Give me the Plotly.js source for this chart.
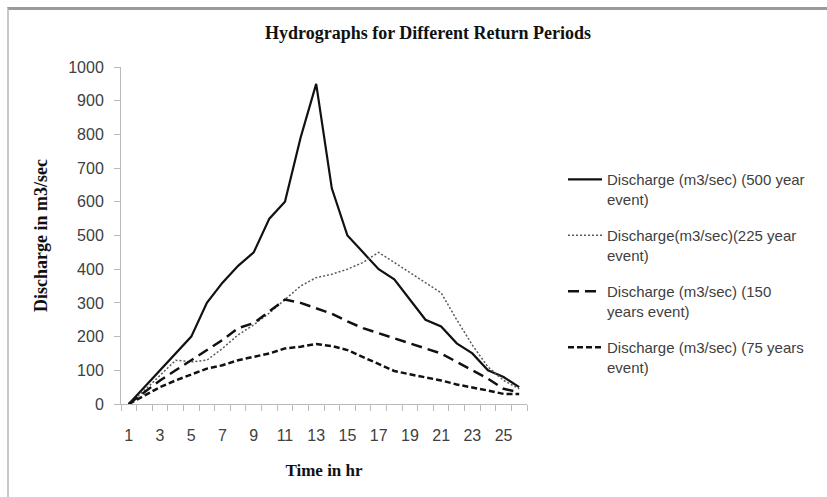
<html><head>
<title>Hydrographs for Different Return Periods</title>
<script src="https://cdn.plot.ly/plotly-3.0.1.min.js"></script>
<style>
  body {
    margin: 0;
    padding: 0;
    background-color: white;
  }
  #chart {
    position: absolute;
    left: 0;
    top: 0;
    width: 827px;
    height: 497px;
  }
  .frame {
    position: absolute;
    left: 7px;
    top: 7px;
    width: 840px;
    height: 510px;
    border-top: 3px solid #9a9a9a;
    border-left: 2px solid #c8c8c8;
    pointer-events: none;
  }
</style>
</head>
<body>
<div id="chart"></div>
<div class="frame"></div>

<script>
// time step (hr) and discharge in m3/sec
const hours = [1,2,3,4,5,6,7,8,9,10,11,12,13,14,15,16,17,18,19,20,21,22,23,24,25,26];
const q500 = [0,50,100,150,200,300,360,410,450,550,600,790,950,640,500,450,400,370,310,250,230,180,150,100,80,50];
const q225 = [0,40,85,130,125,130,165,205,235,270,310,350,375,385,400,420,450,420,390,360,330,250,175,110,70,45];
const q150 = [0,35,70,100,130,160,190,225,240,275,310,300,285,268,245,225,210,195,180,165,150,125,100,75,45,35];
const q75 = [0,25,50,70,88,105,115,130,140,150,165,170,178,172,160,140,118,98,88,80,70,58,50,40,30,30];

const seriesNames = [
  'Discharge (m3/sec) (500 year<br>event)',
  'Discharge(m3/sec)(225 year<br>event)',
  'Discharge (m3/sec) (150<br>years event)',
  'Discharge (m3/sec) (75 years<br>event)'
];
const xTickVals = [1,3,5,7,9,11,13,15,17,19,21,23,25];

const traces = [
  { y: q500, line: { color: '#111111', width: 2.2, dash: 'solid' } },
  { y: q225, line: { color: '#5a5a5a', width: 1.5, dash: '2px,2px' } },
  { y: q150, line: { color: '#111111', width: 2.5, dash: '11px,6px' } },
  { y: q75,  line: { color: '#111111', width: 2.5, dash: '6px,3px' } }
].map((t, i) => ({
  x: hours,
  y: t.y,
  type: 'scatter',
  mode: 'lines',
  name: seriesNames[i],
  legendgroup: 'g' + i,
  line: t.line
}));

const layout = {
  width: 827,
  height: 497,
  margin: { l: 121, r: 300, t: 67, b: 93 },
  paper_bgcolor: 'white',
  plot_bgcolor: 'white',
  showlegend: true,
  title: {
    text: 'Hydrographs for Different Return Periods',
    font: { family: 'Liberation Serif', size: 18, weight: 'bold', color: '#111' },
    xref: 'container', x: 0.5175, xanchor: 'center',
    yref: 'container', y: 0.934, yanchor: 'middle'
  },
  xaxis: {
    range: [0.5, 26.5],
    tickmode: 'array',
    tickvals: xTickVals,
    ticktext: xTickVals.map(String),
    ticks: 'outside',
    ticklen: 17,
    tickcolor: 'rgba(0,0,0,0)',
    minor: { tickmode: 'linear', tick0: 0.5, dtick: 1, ticks: 'outside', ticklen: 6, tickcolor: '#bbbbbb' },
    showline: true,
    linecolor: '#bbbbbb',
    showgrid: false,
    zeroline: false,
    tickfont: { family: 'Liberation Sans', size: 16, color: '#404040' },
    title: {
      text: 'Time in hr',
      standoff: 20,
      font: { family: 'Liberation Serif', size: 17, weight: 'bold', color: '#111' }
    }
  },
  yaxis: {
    range: [0, 1000],
    dtick: 100,
    ticks: 'outside',
    ticklen: 6,
    ticklabelstandoff: 7,
    tickcolor: '#bbbbbb',
    showline: true,
    linecolor: '#bbbbbb',
    showgrid: false,
    zeroline: false,
    tickfont: { family: 'Liberation Sans', size: 16, color: '#404040' },
    title: {
      text: 'Discharge in m3/sec',
      standoff: 15,
      font: { family: 'Liberation Serif', size: 18, weight: 'bold', color: '#111' }
    }
  },
  legend: {
    x: 1.0887, xanchor: 'left',
    y: 0.715, yanchor: 'top',
    valign: 'top',
    tracegroupgap: 14,
    itemwidth: 34,
    bgcolor: 'rgba(0,0,0,0)',
    font: { family: 'Liberation Sans', size: 15, color: '#404040' }
  }
};

Plotly.newPlot('chart', traces, layout, { displayModeBar: false, staticPlot: true });
</script>
</body></html>
